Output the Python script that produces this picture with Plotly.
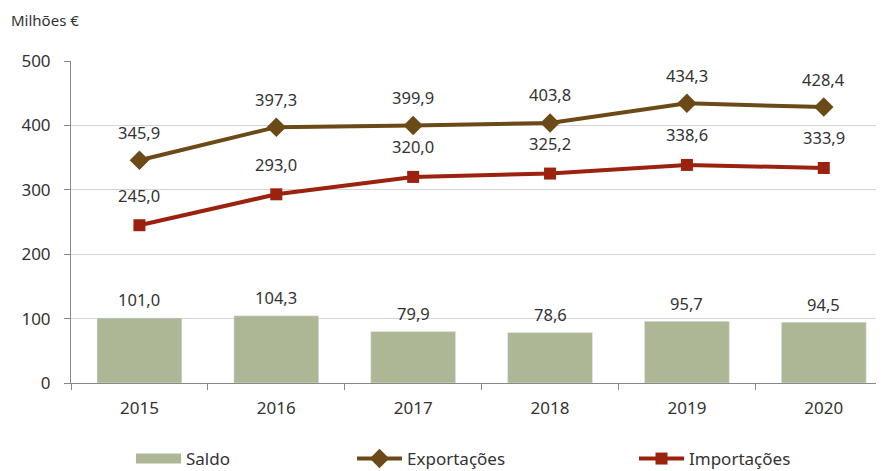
import plotly.graph_objects as go

# anos e valores (milhões de euros)
anos = ["2015", "2016", "2017", "2018", "2019", "2020"]
saldo = [101.0, 104.3, 79.9, 78.6, 95.7, 94.5]
exportacoes = [345.9, 397.3, 399.9, 403.8, 434.3, 428.4]
importacoes = [245.0, 293.0, 320.0, 325.2, 338.6, 333.9]

cor_saldo = "#ADB796"
cor_exp = "#6B4A17"
cor_imp = "#9C2210"
cor_txt = "#333333"
fonte = "Noto Sans"


def rotulo(v):
    return f"{v:.1f}".replace(".", ",")


fig = go.Figure()

fig.add_trace(go.Bar(x=anos, y=saldo, marker_color=cor_saldo, width=0.62,
                     showlegend=False, name="Saldo"))
# legend proxy for the bars (wide rectangle like the original)
fig.add_trace(go.Scatter(x=[None], y=[None], mode="lines", name="Saldo",
                         line=dict(color=cor_saldo, width=14), legend="legend"))

fig.add_trace(go.Scatter(x=anos, y=exportacoes, mode="lines+markers", name="Exportações",
                         line=dict(color=cor_exp, width=4),
                         marker=dict(symbol="diamond", size=15, color=cor_exp),
                         legend="legend2"))
fig.add_trace(go.Scatter(x=anos, y=importacoes, mode="lines+markers", name="Importações",
                         line=dict(color=cor_imp, width=4),
                         marker=dict(symbol="square", size=12, color=cor_imp),
                         legend="legend3"))

# data labels (x as category index)
for serie, dy in ((saldo, 18), (exportacoes, 28), (importacoes, 30)):
    for i, v in enumerate(serie):
        fig.add_annotation(x=i, y=v, text=rotulo(v), showarrow=False,
                           yshift=dy, font=dict(size=16.5, color=cor_txt, family=fonte))

fig.add_annotation(x=0, y=1, xref="paper", yref="paper", xshift=-62, yshift=29,
                   text="Milhões €", showarrow=False, xanchor="left", yanchor="bottom",
                   font=dict(size=15, color=cor_txt, family=fonte))

leg = dict(orientation="h", yanchor="middle", y=-(459 - 383) / 322, xanchor="left",
           font=dict(size=17, color=cor_txt, family=fonte),
           bgcolor="rgba(0,0,0,0)", itemwidth=45)

# page body has an 8px margin, so the figure is 8px smaller than the window
fig.update_layout(
    width=876, height=463,
    margin=dict(l=63, r=0, t=53, b=88, autoexpand=False),
    plot_bgcolor="white", paper_bgcolor="white",
    font=dict(family=fonte, size=16, color=cor_txt),
    legend=dict(leg, x=(131 - 71) / 813),
    legend2=dict(leg, x=(352 - 71) / 813),
    legend3=dict(leg, x=(634 - 71) / 813),
    xaxis=dict(type="category", range=[-0.5, 5.44], showline=True, linecolor="#888888",
               linewidth=1, ticks="outside", tickson="boundaries", ticklen=6,
               tickcolor="#888888", showgrid=False, ticklabelstandoff=10,
               tickfont=dict(size=17, color=cor_txt)),
    yaxis=dict(range=[0, 500], dtick=100, showline=True, linecolor="#888888",
               linewidth=1, ticks="outside", ticklen=6, tickcolor="#888888",
               gridcolor="#D4D4D4", gridwidth=1, zeroline=False, ticklabelstandoff=10,
               tickfont=dict(size=17, color=cor_txt)),
)

fig.write_html("out.html")
